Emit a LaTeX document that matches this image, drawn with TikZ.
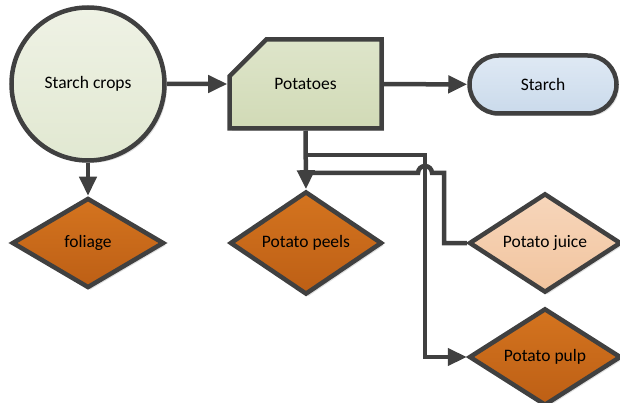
\documentclass[tikz,border=0pt]{standalone}
\usepackage{fontspec}
\setmainfont{Carlito}
\usepackage{tikz}
\usetikzlibrary{
  	positioning,
  	arrows.meta,
  	shapes,
		shadows,
  	calc
  }
\definecolor{edgegray}{HTML}{404040}
\definecolor{rustdark}{HTML}{BD5F15}
\definecolor{rustlight}{HTML}{D4741F}
\tikzstyle{blk}=[draw=edgegray,line width=4.5pt,inner sep=0pt,
  font=\fontsize{17.5}{21}\selectfont,
  drop shadow={shadow xshift=2.5pt,shadow yshift=-2.5pt,fill=black!12,opacity=1}]
\tikzstyle{waste}=[blk,diamond,minimum width=152pt,minimum height=90pt,
  top color=rustlight,bottom color=rustdark]
\tikzstyle{flow}=[draw=edgegray,line width=4.5pt,-{Triangle[length=19pt,width=17pt]}]
\tikzstyle{link}=[draw=edgegray,line width=4.5pt]

\begin{document}
\begin{tikzpicture}[x=1pt,y=-1pt]
    \useasboundingbox (0,0) rectangle (620,403);
    \node (crops) [blk,circle,minimum size=153pt,
       top color={rgb,255:red,239;green,242;blue,229},
       bottom color={rgb,255:red,225;green,232;blue,209}] at (88,84) {Starch crops};
    \node (potatoes) [blk,chamfered rectangle,chamfered rectangle corners=north west,
       chamfered rectangle xsep=38pt,chamfered rectangle ysep=36pt,
       minimum width=152pt,minimum height=89pt,
       top color={rgb,255:red,222;green,229;blue,202},
       bottom color={rgb,255:red,209;green,218;blue,182}] at (305.5,84) {Potatoes};
    \node (starch) [blk,rounded rectangle,minimum width=147pt,minimum height=58pt,
       top color={rgb,255:red,223;green,233;blue,244},
       bottom color={rgb,255:red,202;green,218;blue,235}] at (543,84.5) {Starch};
    \node (foliage) [waste] at (88,243) {foliage};
    \node (peels) [waste] at (306,243) {Potato peels};
    \node (juice) [waste,top color={rgb,255:red,247;green,214;blue,187},
       bottom color={rgb,255:red,241;green,196;blue,158}] at (545,243) {Potato juice};
    \node (pulp) [waste] at (545,357) {Potato pulp};
    \coordinate (fork1) at (306,155);
    \coordinate (fork2) at (306,173);
    \draw [flow] (crops) -- (potatoes);
    \draw [flow] (potatoes) -- (starch);
    \draw [flow] (crops) -- (foliage);
    \draw [flow] (potatoes.south) -- (peels.north);
    \draw [flow] (fork1) -- (425,155) -- (425,357) -- (pulp.west);
    \draw [link] (fork2) -- (418,173) arc[start angle=180,end angle=360,radius=7]
       -- (444,173) -- (444,243) -- (juice.west);
  \end{tikzpicture}
\end{document}
